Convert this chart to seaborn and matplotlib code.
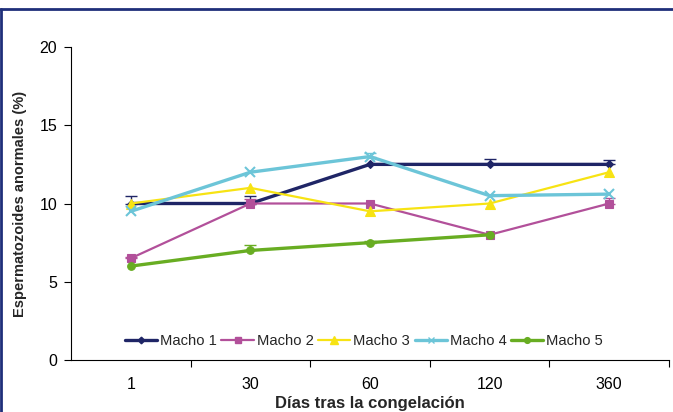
import matplotlib
matplotlib.use("Agg")
import matplotlib.pyplot as plt
import seaborn as sns
import numpy as np
import pandas as pd
from matplotlib.lines import Line2D

sns.set_style("white")
plt.rcParams["font.family"] = ["Liberation Sans", "DejaVu Sans"]

# Data
dias = ["1", "30", "60", "120", "360"]
series = ["Macho 1", "Macho 2", "Macho 3", "Macho 4", "Macho 5"]
macho1 = [10.0, 10.0, 12.5, 12.5, 12.5]
macho2 = [6.5, 10.0, 10.0, 8.0, 10.0]
macho3 = [10.0, 11.0, 9.5, 10.0, 12.0]
macho4 = [9.5, 12.0, 13.0, 10.5, 10.6]
macho5 = [6.0, 7.0, 7.5, 8.0, np.nan]
# upper error (one-sided)
err1 = [0.45, 0.45, 0.0, 0.35, 0.3]
err2 = [0.1, 0.3, 0.0, 0.0, 0.35]
err3 = [0.0, 0.0, 0.0, 0.0, 0.0]
err4 = [0.0, 0.0, 0.25, 0.0, 0.0]
err5 = [0.0, 0.35, 0.1, 0.0, 0.0]

values = [macho1, macho2, macho3, macho4, macho5]
errors = [err1, err2, err3, err4, err5]
colors = ["#1F2566", "#B2509A", "#F7E313", "#6CC5D8", "#68AD22"]
markers = ["D", "s", "^", "x", "o"]
msizes = [4.5, 5.5, 7, 6.5, 5.5]
lwidths = [2.4, 1.6, 1.6, 2.4, 2.4]

rows = []
for name, vals in zip(series, values):
    for i, v in enumerate(vals):
        rows.append({"dia": i, "valor": v, "serie": name})
df = pd.DataFrame(rows).dropna()

fig = plt.figure(figsize=(6.73, 4.12), dpi=100)
ax = fig.add_axes([71 / 673, 52 / 412, 598 / 673, 313 / 412])

x = np.arange(len(dias))
for name, vals, errs, c, m, ms, lw in zip(series, values, errors, colors,
                                          markers, msizes, lwidths):
    sub = df[df["serie"] == name]
    sns.lineplot(data=sub, x="dia", y="valor", ax=ax, color=c, linewidth=lw,
                 marker=m, markersize=ms, markeredgecolor=c,
                 markeredgewidth=1.5 if m == "x" else 0.8, legend=False)
    v = np.array(vals, dtype=float)
    e = np.array(errs, dtype=float)
    mask = (~np.isnan(v)) & (e > 0)
    if mask.any():
        ax.errorbar(x[mask], v[mask], yerr=[np.zeros(mask.sum()), e[mask]],
                    fmt="none", ecolor=c, elinewidth=1.0, capsize=4,
                    capthick=1.0)

ax.set_xlim(-0.5, 4.5)
ax.set_ylim(0, 20)
ax.set_yticks([0, 5, 10, 15, 20])
ax.set_xticks(x)
ax.set_xticklabels(dias)
ax.set_xticks(np.arange(0.5, 4.6, 1.0), minor=True)
ax.tick_params(axis="x", which="major", length=0, pad=12, labelsize=11.5,
               colors="black")
ax.tick_params(axis="x", which="minor", length=5, width=0.8, colors="black",
               direction="out", bottom=True)
ax.tick_params(axis="y", length=5, width=0.8, direction="out", left=True,
               labelsize=11.5, pad=5, colors="black")

for side in ["top", "right"]:
    ax.spines[side].set_visible(False)
for side in ["left", "bottom"]:
    ax.spines[side].set_color("black")
    ax.spines[side].set_linewidth(0.8)

ax.set_xlabel("Días tras la congelación", fontsize=12, fontweight="bold",
              labelpad=3)
ax.set_ylabel("Espermatozoides anormales (%)", fontsize=10.5,
              fontweight="bold", labelpad=9)

handles = [Line2D([0], [0], color=c, lw=lw, marker=m, markersize=ms * 0.75,
                  markeredgecolor=c)
           for c, m, ms, lw in zip(colors, markers, msizes, lwidths)]
ax.legend(handles, series, loc="center", bbox_to_anchor=(0.49, 0.061),
          ncol=5, frameon=False, fontsize=10.6, handlelength=2.2,
          handletextpad=0.2, columnspacing=0.3, borderaxespad=0)

# outer frame edges (top and left)
fig.add_artist(Line2D([0, 1], [1 - 9 / 412, 1 - 9 / 412],
                      transform=fig.transFigure, color="#1F2F7A", lw=2))
fig.add_artist(Line2D([0.5 / 673, 0.5 / 673], [0, 1 - 9 / 412],
                      transform=fig.transFigure, color="#1F2F7A", lw=2))

fig.savefig("out.png", dpi=100)
